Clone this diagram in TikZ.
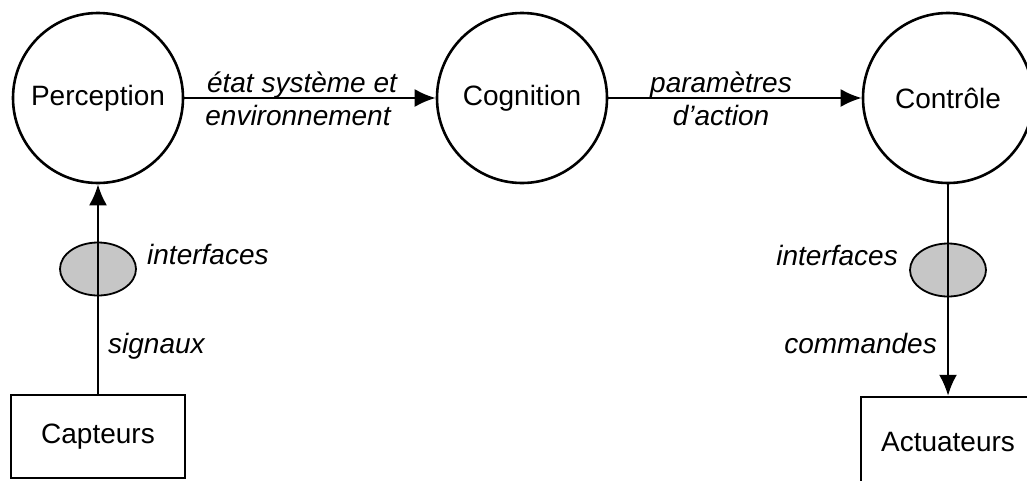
\documentclass[tikz,border=0pt]{standalone}
\usepackage{fontspec}
\setmainfont{Liberation Sans}
\usetikzlibrary{arrows.meta,shapes.geometric}
\begin{document}
\begin{tikzpicture}[x=1pt,y=-1pt,
  every node/.style={font=\fontsize{28}{32}\selectfont},
  state/.style={circle,draw,line width=2.6pt,minimum size=170pt,inner sep=0pt},
  device/.style={rectangle,draw,line width=2.4pt,minimum width=174pt,minimum height=83pt,inner sep=0pt},
  iface/.style={ellipse,draw,line width=1.8pt,fill=gray!45,minimum width=76pt,minimum height=53pt,inner sep=0pt},
  flow/.style={line width=2.4pt,-{Latex[length=21pt,width=18pt]}},
  lbl/.style={font=\fontsize{28}{32}\selectfont\itshape,inner sep=0pt}
]
\useasboundingbox (0,0) rectangle (1027,480);
\clip (0,0) rectangle (1027,480);
\fill[white] (0,0) rectangle (1027,480);

% main processing chain
\node[state] (per) at (98,98) {Perception};
\node[state] (cog) at (522,98) {Cognition};
\node[state] (ctl) at (948,98) {Contrôle};

% physical devices
\node[device] (cap) at (98,436.5) {Capteurs};
\node[device,minimum height=90pt] (act) at (948,442) {Actuateurs};

% interfaces
\node[iface] (ifl) at (98,269) {};
\node[iface] (ifr) at (948,270) {};

% flows
\draw[flow] (per) -- (cog);
\draw[flow] (cog) -- (ctl);
\draw[flow] (cap) -- (per);
\draw[flow] (ctl) -- (act);

% flow labels
\node[lbl,anchor=base] (l1) at (302,92) {état système et};
\node[lbl,anchor=base] (l2) at (298,125) {environnement};
\node[lbl,anchor=base] (l3) at (721,92) {paramètres};
\node[lbl,anchor=base] (l4) at (721,125) {d’action};
\node[lbl,anchor=base west] (l5) at (147,264) {interfaces};
\node[lbl,anchor=base west] (l6) at (108,353) {signaux};
\node[lbl,anchor=base east] (l7) at (898,265) {interfaces};
\node[lbl,anchor=base east] (l8) at (937,353) {commandes};
\end{tikzpicture}
\end{document}
